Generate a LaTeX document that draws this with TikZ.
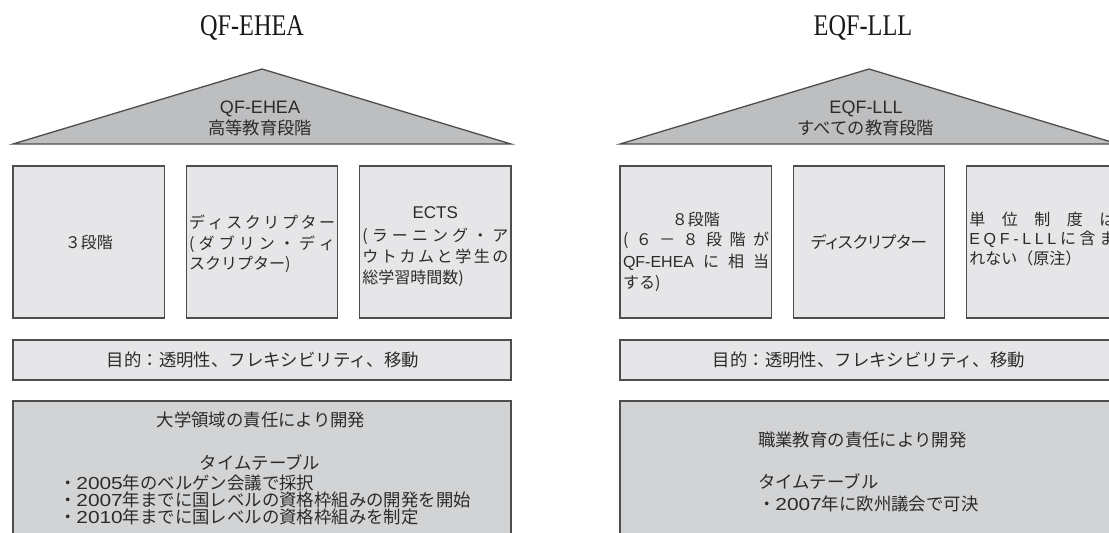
\documentclass[tikz,border=0pt]{standalone}
\usepackage{fontspec}
\setmainfont{Noto Sans CJK JP}
\newfontfamily\jpp[RawFeature=+palt]{Noto Sans CJK JP}
\newfontfamily\lat{Liberation Sans}
\newfontfamily\dgt[FakeStretch=1.2]{Liberation Sans}
\newfontfamily\ttl[FakeStretch=0.81]{Liberation Serif}
\definecolor{lineC}{HTML}{4D4D4D}
\definecolor{roofC}{HTML}{BDBEC0}
\definecolor{boxC}{HTML}{E6E6E8}
\definecolor{botC}{HTML}{D2D3D5}
\definecolor{txtC}{HTML}{2B2B2B}
\newcommand\setfs[1]{\fontsize{#1}{#1}\selectfont}
\newcommand\dg[1]{{\dgt #1}}
\makeatletter
\newcommand\jline[2]{\makebox[#1][s]{\@tfor\jl@c:=#2\do{\jl@c\hfil}\unskip}}
\makeatother
\begin{document}
\begin{tikzpicture}[x=1pt,y=-1pt,
  roof/.style={draw=lineC, line width=1.3pt, fill=roofC, line join=miter},
  bx/.style={draw=lineC, line width=1.3pt, fill=boxC, anchor=north west, inner sep=0pt, outer sep=0pt, minimum width=151.6pt, minimum height=152pt},
  bar/.style={draw=lineC, line width=1.3pt, fill=boxC, anchor=north west, inner sep=0pt, outer sep=0pt, minimum width=498pt, minimum height=40pt},
  bot/.style={draw=lineC, line width=1.3pt, fill=botC, anchor=north west, inner sep=0pt, outer sep=0pt, minimum width=498pt, minimum height=170pt},
  txt/.style={text=txtC, inner sep=0pt, outer sep=0pt, font=\setfs{16}},
  ttlN/.style={text=black!90, inner sep=0pt, outer sep=0pt, font=\ttl\setfs{30}},
]
\useasboundingbox (0,0) rectangle (1109,533);
\clip (0,0) rectangle (1109,533);

% titles
\node[ttlN, anchor=base] (t1) at (252,35) {QF-EHEA};
\node[ttlN, anchor=base] (t2) at (863,35) {EQF-LLL};

% roofs
\draw[roof] (13,144) -- (262,69) -- (511,144) -- cycle;
\draw[roof] (620,144) -- (869,69) -- (1118,144) -- cycle;
\node[txt, font=\lat\setfs{18}, anchor=base] (r1a) at (260,113) {QF-EHEA};
\node[txt, font=\setfs{17.3}, anchor=base] (r1b) at (260,134.5) {高等教育段階};
\node[txt, font=\lat\setfs{18}, anchor=base] (r2a) at (866,113) {EQF-LLL};
\node[txt, font=\setfs{17.3}, anchor=base] (r2b) at (866,134.5) {すべての教育段階};

% pillar boxes
\node[bx] (b11) at (13,166) {};
\node[bx] (b12) at (186.2,166) {};
\node[bx] (b13) at (359.4,166) {};
\node[bx] (b21) at (620,166) {};
\node[bx] (b22) at (793.2,166) {};
\node[bx] (b23) at (966.4,166) {};

% left pillar texts
\node[txt, anchor=base] (b11t) at (88.8,248) {３段階};
\node[txt, anchor=base west] (b12a) at (189.2,228) {\jline{146pt}{ディスクリプター}};
\node[txt, anchor=base west] (b12b) at (189.2,249) {\jline{146pt}{(ダブリン・ディ}};
\node[txt, anchor=base west] (b12c) at (189.2,269) {スクリプター)};
\node[txt, font=\lat\setfs{17}, anchor=base] (b13a) at (435.2,218) {ECTS};
\node[txt, anchor=base west] (b13b) at (362.4,241) {\jline{146pt}{(ラーニング・ア}};
\node[txt, anchor=base west] (b13c) at (362.4,262) {\jline{146pt}{ウトカムと学生の}};
\node[txt, anchor=base west] (b13d) at (362.4,283) {総学習時間数)};

% right pillar texts
\node[txt, anchor=base] (b21a) at (695.8,225) {８段階};
\node[txt, anchor=base west] (b21b) at (623,245.5) {\jline{146pt}{(６－８段階が}};
\node[txt, anchor=base west] (b21c) at (623,267) {\jline{146pt}{{{\lat QF-EHEA}}に相当}};
\node[txt, anchor=base west] (b21d) at (623,288) {する)};
\node[txt, font=\jpp\setfs{16.5}, anchor=base] (b22t) at (869,248) {ディスクリプター};
\node[txt, anchor=base west] (b23a) at (969.4,225) {\jline{146pt}{単位制度は}};
\node[txt, anchor=base west] (b23b) at (969.4,244) {\jline{146pt}{{{\lat E}}{{\lat Q}}{{\lat F}}{{\lat -}}{{\lat L}}{{\lat L}}{{\lat L}}に含ま}};
\node[txt, anchor=base west] (b23c) at (969.4,264) {れない（原注）};

% purpose bars
\node[bar] (p1) at (13,340) {};
\node[bar] (p2) at (620,340) {};
\node[txt, font=\setfs{17.4}, anchor=base] (p1t) at (263,366.6) {目的：透明性、フレキシビリティ、移動};
\node[txt, font=\setfs{17.4}, anchor=base] (p2t) at (869,366.6) {目的：透明性、フレキシビリティ、移動};

% bottom boxes
\node[bot] (d1) at (13,401) {};
\node[bot] (d2) at (620,401) {};
\node[txt, font=\setfs{17.4}, anchor=base] (d1a) at (261,426) {大学領域の責任により開発};
\node[txt, font=\setfs{17.4}, anchor=base] (d1b) at (260,469.3) {タイムテーブル};
\node[txt, font=\setfs{17.4}, anchor=base west] (d1c) at (59,489.3) {・\dg{2005}年のベルゲン会議で採択};
\node[txt, font=\setfs{17.4}, anchor=base west] (d1d) at (59,506.6) {・\dg{2007}年までに国レベルの資格枠組みの開発を開始};
\node[txt, font=\setfs{17.4}, anchor=base west] (d1e) at (59,523.9) {・\dg{2010}年までに国レベルの資格枠組みを制定};
\node[txt, font=\setfs{17.4}, anchor=base west] (d2a) at (758,446.6) {職業教育の責任により開発};
\node[txt, font=\setfs{17.4}, anchor=base west] (d2b) at (758,488.3) {タイムテーブル};
\node[txt, font=\setfs{17.4}, anchor=base west] (d2c) at (758,510) {・\dg{2007}年に欧州議会で可決};
\end{tikzpicture}
\end{document}
